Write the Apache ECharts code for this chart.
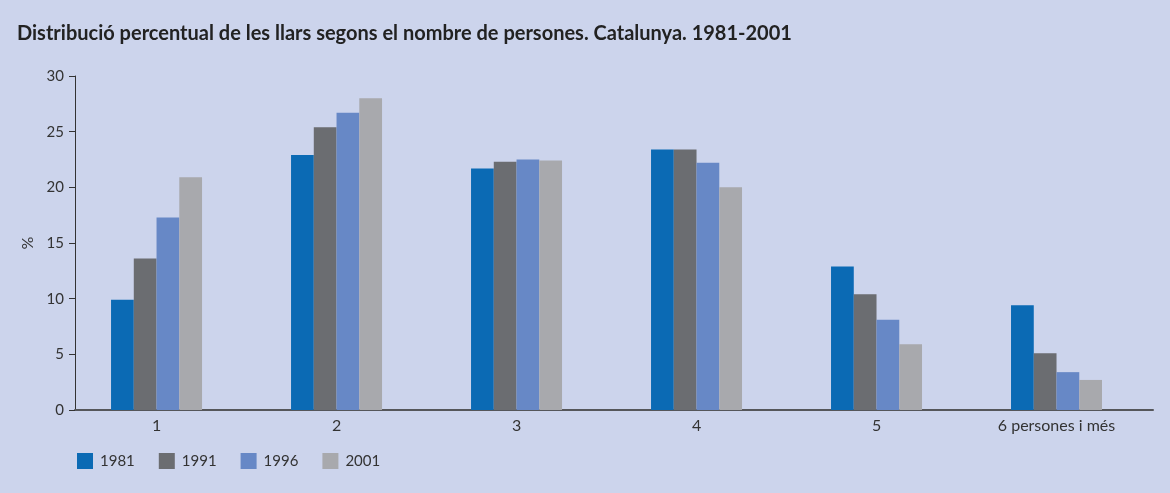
<!DOCTYPE html>
<html>
<head>
<meta charset="utf-8">
<script src="https://cdn.jsdelivr.net/npm/echarts@6/dist/echarts.min.js"></script>
<style>
html,body{margin:0;padding:0;background:#CCD4EC;}
#chart{width:1170px;height:493px;}
</style>
</head>
<body>
<div id="chart"></div>
<script>
const categories = ['1', '2', '3', '4', '5', '6 persones i més'];
const years = ['1981', '1991', '1996', '2001'];
const v1981 = [9.9, 22.9, 21.7, 23.4, 12.9, 9.4];
const v1991 = [13.6, 25.4, 22.3, 23.4, 10.4, 5.1];
const v1996 = [17.3, 26.7, 22.5, 22.2, 8.1, 3.4];
const v2001 = [20.9, 28.0, 22.4, 20.0, 5.9, 2.7];
const yTicks = [0, 5, 10, 15, 20, 25, 30];
const colors = ['#0B6AB4', '#6B6D71', '#6788C6', '#A8A9AD'];
const seriesValues = [v1981, v1991, v1996, v2001];

const chart = echarts.init(document.getElementById('chart'));
const pos = categories.map((c, i) => i + 1);
chart.setOption({
  backgroundColor: '#CCD4EC',
  animation: false,
  title: {
    text: 'Distribució percentual de les llars segons el nombre de persones. Catalunya. 1981-2001',
    left: 12, top: 19,
    textStyle: { fontFamily: 'Lato', fontWeight: 'bold', fontSize: 20, color: '#222' }
  },
  legend: {
    left: 77, top: 453, padding: 0,
    itemWidth: 16, itemHeight: 16, itemGap: 24,
    icon: 'rect',
    textStyle: { fontFamily: 'Lato', fontSize: 15, color: '#333', padding: [0, 0, 0, 2] },
    data: years
  },
  grid: { left: 75, right: 17, top: 76, bottom: 83, containLabel: false },
  xAxis: {
    type: 'value',
    min: 0.547, max: 6.536,
    splitLine: { show: false },
    axisTick: { show: false },
    axisLine: { show: true, lineStyle: { color: '#55565a', width: 2 } },
    axisLabel: {
      customValues: pos,
      formatter: v => categories[Math.round(v) - 1] || '',
      fontFamily: 'Lato', fontSize: 16, color: '#333', margin: 8
    }
  },
  yAxis: {
    type: 'value', min: 0, max: 30, interval: 5,
    name: '%', nameLocation: 'middle', nameGap: 37, nameRotate: 90,
    nameTextStyle: { fontFamily: 'Lato', fontSize: 16, color: '#333' },
    splitLine: { show: false },
    axisLine: { show: true, lineStyle: { color: '#333', width: 1 } },
    axisTick: { show: true, length: 6, lineStyle: { color: '#333' } },
    axisLabel: {
      customValues: yTicks,
      fontFamily: 'Lato', fontSize: 15, color: '#333', margin: 11
    }
  },
  series: years.map((y, k) => ({
    name: y,
    type: 'bar',
    barWidth: 22.75,
    barGap: '0%',
    itemStyle: { color: colors[k] },
    data: seriesValues[k].map((v, i) => [pos[i], v])
  }))
});
</script>
</body>
</html>
